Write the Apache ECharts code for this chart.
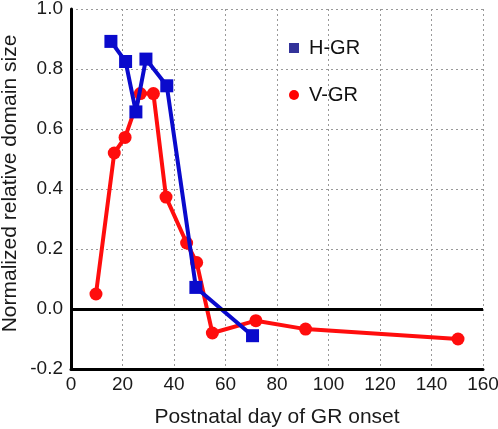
<!DOCTYPE html>
<html><head><meta charset="utf-8">
<script src="https://cdn.jsdelivr.net/npm/echarts@6/dist/echarts.min.js"></script>
<style>html,body{margin:0;padding:0;background:#fff}#c{width:498px;height:429px}</style>
</head><body><div id="c"></div>
<script>
const hgrDays = [15.5, 21.2, 25.2, 29.1, 37.2, 48.5, 70.5];
const hgrValues = [0.892, 0.825, 0.657, 0.833, 0.744, 0.072, -0.089];
const vgrDays = [9.7, 16.8, 21.0, 26.9, 32.0, 36.9, 44.9, 48.8, 54.9, 71.8, 91.1, 150.3];
const vgrValues = [0.05, 0.52, 0.572, 0.718, 0.718, 0.373, 0.22, 0.155, -0.08, -0.039, -0.067, -0.1];
const xLabel = 'Postnatal day of GR onset';
const yLabel = 'Normalized relative domain size';

const chart = echarts.init(document.getElementById('c'), null, {renderer: 'canvas'});
const font = 'Liberation Sans, Arial, sans-serif';
chart.setOption({
  animation: false,
  textStyle: {fontFamily: font},
  grid: {left: 71, right: 15, top: 9, bottom: 60, containLabel: false, outerBoundsMode: 'none'},
  xAxis: {
    type: 'value', min: 0, max: 160, interval: 20,
    name: xLabel, nameLocation: 'middle', nameGap: 38,
    nameTextStyle: {fontSize: 21, color: '#1a1a1a', fontFamily: font},
    axisLine: {show: true, onZero: false, lineStyle: {color: '#000', width: 3}},
    axisTick: {show: false},
    axisLabel: {fontSize: 19, color: '#1a1a1a', margin: 6, fontFamily: font},
    splitLine: {show: true, lineStyle: {color: '#999', type: [2, 3], width: 1}}
  },
  yAxis: {
    type: 'value', min: -0.2, max: 1.0, interval: 0.2,
    name: yLabel, nameLocation: 'middle', nameGap: 50, nameMoveOverlap: false,
    nameTextStyle: {fontSize: 21, color: '#1a1a1a', fontFamily: font, padding: [0, 0, 0, 11]},
    axisLine: {show: true, onZero: false, lineStyle: {color: '#000', width: 3}},
    axisTick: {show: false},
    axisLabel: {fontSize: 19, color: '#1a1a1a', margin: 8, fontFamily: font,
      formatter: v => v.toFixed(1)},
    splitLine: {show: true, lineStyle: {color: '#999', type: [2, 3], width: 1}}
  },
  legend: {
    orient: 'vertical', left: 289, top: 38, itemGap: 27, padding: 0,
    itemWidth: 10, itemHeight: 10,
    textStyle: {fontSize: 20, color: '#111', fontFamily: font, padding: [0, 0, 0, 5]},
    data: [
      {name: 'H-GR', icon: 'rect', itemStyle: {color: '#33339a'}},
      {name: 'V-GR', icon: 'circle', itemStyle: {color: '#ff0000'}}
    ]
  },
  series: [
    {
      name: 'V-GR', type: 'line', z: 2,
      data: vgrDays.map((d, i) => [d, vgrValues[i]]),
      symbol: 'circle', symbolSize: 13,
      lineStyle: {color: '#ff0d0d', width: 4},
      itemStyle: {color: '#ff0d0d'},
      markLine: {
        silent: true, symbol: 'none', label: {show: false},
        lineStyle: {color: '#000', width: 3, type: 'solid'},
        data: [{yAxis: 0}]
      }
    },
    {
      name: 'H-GR', type: 'line', z: 3,
      data: hgrDays.map((d, i) => [d, hgrValues[i]]),
      symbol: 'rect', symbolSize: 13,
      lineStyle: {color: '#0a0acc', width: 4},
      itemStyle: {color: '#0a0acc'}
    }
  ]
});
</script></body></html>
